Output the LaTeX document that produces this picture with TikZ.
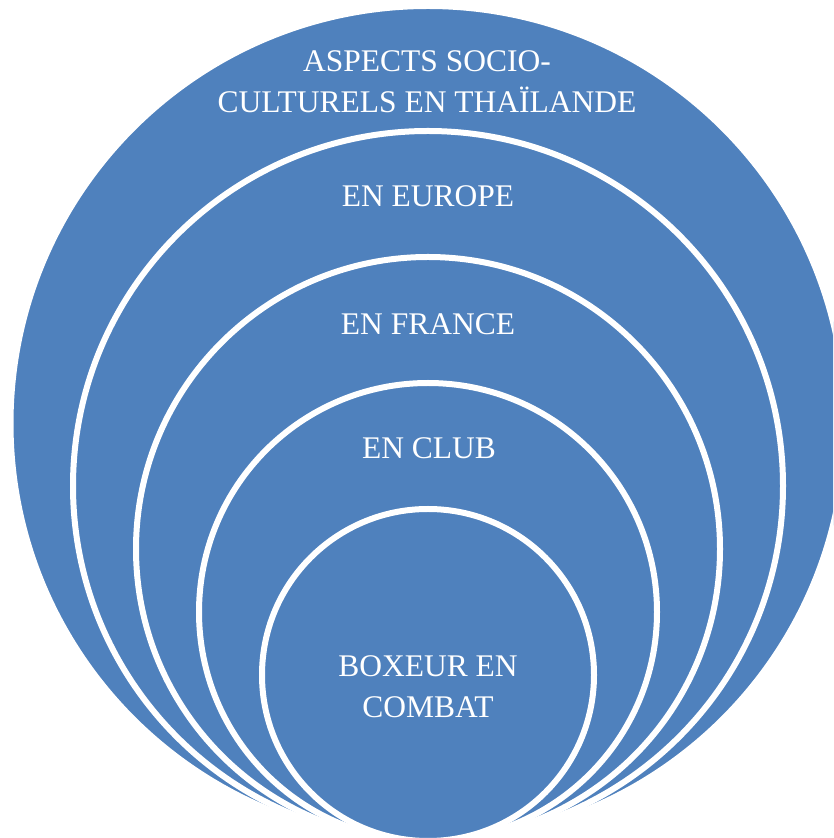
\documentclass[tikz,border=0pt]{standalone}
\usepackage{fontspec}
\setmainfont{Liberation Serif}
\definecolor{ringblue}{HTML}{4F81BD}
\tikzset{
  ring/.style={fill=ringblue, draw=white, line width=6pt},
  lbl/.style={text=white, align=center, anchor=base, inner sep=0pt,
    font=\fontsize{31.5}{41}\selectfont}
}
\begin{document}
\begin{tikzpicture}[x=1pt,y=1pt]
\useasboundingbox (0,0) rectangle (833,838);
\clip (0,0) rectangle (833,838);
\path[ring] (428,414.5) circle[radius=417.5];
\path[ring] (428,352) circle[radius=355];
\path[ring] (428,289) circle[radius=292];
\path[ring] (428,226) circle[radius=229];
\path[ring] (428,163) circle[radius=166];
\node[lbl] (n1) at (427,725.5) {ASPECTS SOCIO-\\CULTURELS EN THAÏLANDE};
\node[lbl] (n2) at (428,631) {EN EUROPE};
\node[lbl] (n3) at (428,503) {EN FRANCE};
\node[lbl] (n4) at (429,379) {EN CLUB};
\node[lbl] (n5) at (428,120) {BOXEUR EN\\COMBAT};
\end{tikzpicture}
\end{document}
